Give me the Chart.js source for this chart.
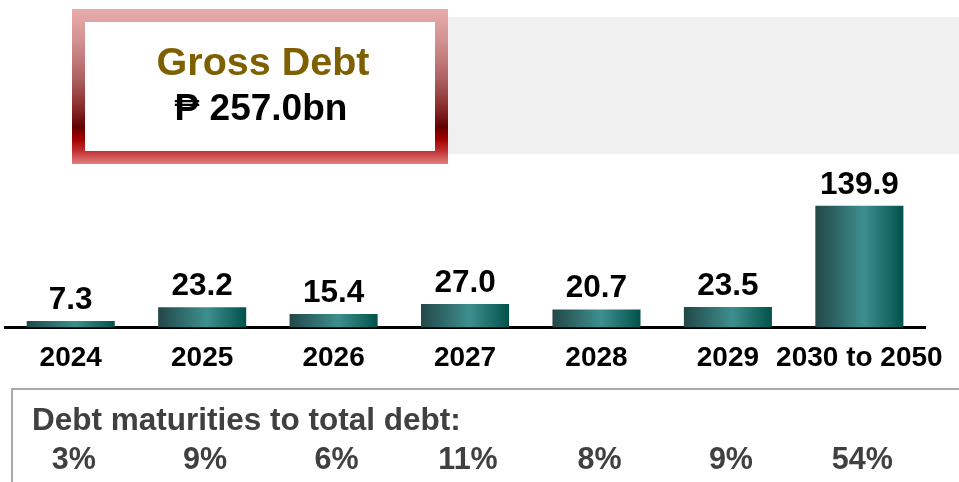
<!DOCTYPE html>
<html>
<head>
<meta charset="utf-8">
<title>Gross Debt maturity profile</title>
<script src="https://cdn.jsdelivr.net/npm/chart.js@4.4.1/dist/chart.umd.min.js"></script>
<style>
  html, body { margin: 0; padding: 0; background: #ffffff; }
  #wrap { position: relative; width: 959px; height: 482px; }
  canvas { display: block; }
</style>
</head>
<body>
<div id="wrap"><canvas id="debt" width="959" height="482"></canvas></div>
<script>
// Maturity buckets and amounts (PHP billions)
const maturityYears = ['2024', '2025', '2026', '2027', '2028', '2029', '2030 to 2050'];
const maturityAmounts = [7.3, 23.2, 15.4, 27.0, 20.7, 23.5, 139.9];
// Share of each bucket in total debt (%)
const shareOfTotal = [3, 9, 6, 11, 8, 9, 54];
const grossDebtTitle = 'Gross Debt';
const grossDebtTotal = '\u20B1 257.0bn';
const shareHeading = 'Debt maturities to total debt:';

const FONT = '"Liberation Sans", Arial, "DejaVu Sans", sans-serif';
const BAR_PCT = 0.67;

// Background panels, headline box and the share-of-total strip
const decorPlugin = {
  id: 'decor',
  beforeDraw(chart) {
    const ctx = chart.ctx;
    ctx.save();
    // light grey panel to the right of the headline box
    ctx.fillStyle = '#f0f0f0';
    ctx.fillRect(447, 17, 512, 137);

    // headline box with a red gradient frame
    const g = ctx.createLinearGradient(0, 9, 0, 164);
    g.addColorStop(0.00, '#e8acac');
    g.addColorStop(0.20, '#d49292');
    g.addColorStop(0.45, '#ae6262');
    g.addColorStop(0.65, '#862626');
    g.addColorStop(0.76, '#620202');
    g.addColorStop(0.84, '#a30000');
    g.addColorStop(0.92, '#c23434');
    g.addColorStop(1.00, '#e28080');
    ctx.fillStyle = g;
    ctx.fillRect(72, 9, 376, 155);
    ctx.fillStyle = '#ffffff';
    ctx.fillRect(85, 22, 350, 129);

    ctx.textAlign = 'center';
    ctx.textBaseline = 'alphabetic';
    ctx.fillStyle = '#7f6000';
    ctx.font = 'bold 39.5px ' + FONT;
    ctx.fillText(grossDebtTitle, 263, 75);
    ctx.fillStyle = '#000000';
    ctx.font = 'bold 37px ' + FONT;
    ctx.fillText(grossDebtTotal, 261, 120);

    // share-of-total strip outline
    ctx.fillStyle = '#a9a9a9';
    ctx.fillRect(11, 388, 948, 2);
    ctx.fillRect(11, 388, 2, 94);
    ctx.restore();
  },
  afterDraw(chart) {
    const ctx = chart.ctx;
    const x = chart.scales.x;
    ctx.save();
    ctx.fillStyle = '#404040';
    ctx.textBaseline = 'alphabetic';
    ctx.font = 'bold 31.5px ' + FONT;
    ctx.textAlign = 'left';
    ctx.fillText(shareHeading, 32, 430);
    ctx.font = 'bold 30.5px ' + FONT;
    ctx.textAlign = 'center';
    shareOfTotal.forEach((v, i) => {
      ctx.fillText(v + '%', x.getPixelForValue(i) + 3, 469);
    });
    ctx.restore();
  }
};

// Horizontal teal shading, built per bar from the category scale
function barShade(context) {
  const chart = context.chart;
  const x = chart.scales.x;
  if (!chart.chartArea || !x) return '#2f6e6e';
  const centre = x.getPixelForValue(context.dataIndex);
  const half = (chart.chartArea.width / maturityYears.length) * BAR_PCT / 2;
  const g = chart.ctx.createLinearGradient(centre - half, 0, centre + half, 0);
  g.addColorStop(0.00, '#234747');
  g.addColorStop(0.55, '#3e8f8f');
  g.addColorStop(1.00, '#02524b');
  return g;
}

// Value labels above the bars
const valueLabelPlugin = {
  id: 'valueLabels',
  afterDatasetsDraw(chart) {
    const ctx = chart.ctx;
    ctx.save();
    ctx.fillStyle = '#000000';
    ctx.font = 'bold 31.5px ' + FONT;
    ctx.textAlign = 'center';
    ctx.textBaseline = 'alphabetic';
    chart.getDatasetMeta(0).data.forEach((bar, i) => {
      ctx.fillText(maturityAmounts[i].toFixed(1), bar.x, bar.y - 12);
    });
    ctx.restore();
  }
};

new Chart(document.getElementById('debt'), {
  type: 'bar',
  data: {
    labels: maturityYears,
    datasets: [{
      data: maturityAmounts,
      backgroundColor: barShade,
      borderWidth: 0,
      categoryPercentage: 1.0,
      barPercentage: BAR_PCT
    }]
  },
  options: {
    responsive: false,
    animation: false,
    layout: { padding: { left: 5, right: 33, top: 171, bottom: 93 } },
    plugins: {
      legend: { display: false },
      tooltip: { enabled: false },
      title: { display: false }
    },
    scales: {
      x: {
        grid: { display: false, drawTicks: false },
        border: { display: true, color: '#000000', width: 3 },
        ticks: {
          color: '#000000',
          padding: 14,
          maxRotation: 0,
          autoSkip: false,
          font: { family: FONT, size: 28, weight: 'bold' }
        }
      },
      y: {
        display: false,
        min: 0,
        max: 180
      }
    }
  },
  plugins: [decorPlugin, valueLabelPlugin]
});
</script>
</body>
</html>
